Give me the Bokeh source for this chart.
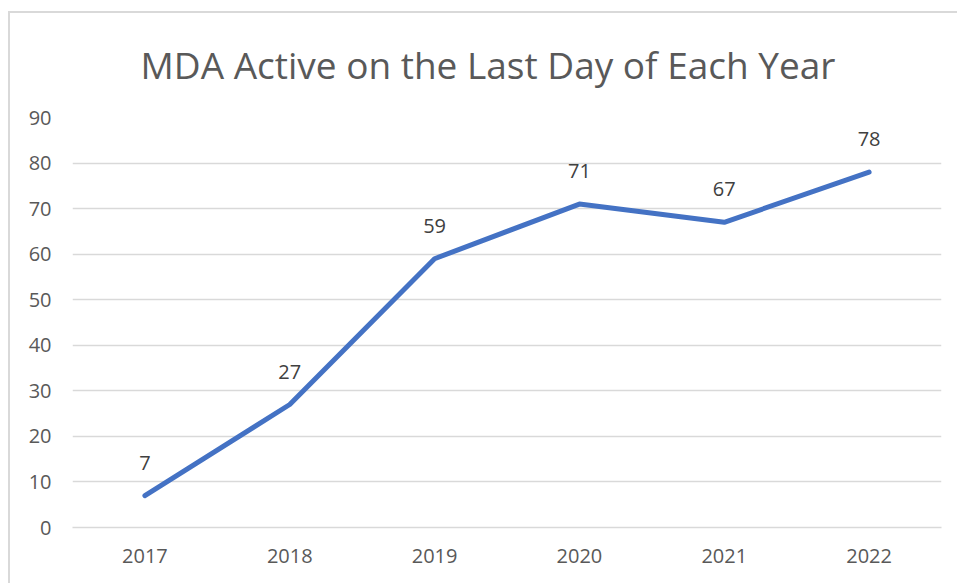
from bokeh.plotting import figure
from bokeh.models import ColumnDataSource, Title
from bokeh.embed import file_html
from bokeh.resources import INLINE
from bokeh.core.properties import value

years = ["2017", "2018", "2019", "2020", "2021", "2022"]
counts = [7, 27, 59, 71, 67, 78]
labels = [str(c) for c in counts]
y_ticks = [0, 10, 20, 30, 40, 50, 60, 70, 80, 90]

FONT = "Open Sans"
src = ColumnDataSource(dict(x=years, y=counts, t=labels))

p = figure(x_range=years, y_range=(0, 90), width=949, height=572,
           output_backend="svg", toolbar_location=None,
           min_border_left=62, min_border_right=18, min_border_top=104, min_border_bottom=58)
p.margin = (11, 0, 0, 8)
p.styles = {"border-top": "2px solid #d9d9d9", "border-left": "2px solid #d9d9d9",
            "box-sizing": "border-box"}

title = Title(text="MDA Active on the Last Day of Each Year", align="left", offset=68,
              vertical_align="top",
              text_font=FONT, text_font_size="37px", text_font_style="normal",
              text_color="#595959", standoff=51)
p.add_layout(title, "above")

p.outline_line_color = None
p.background_fill_color = "white"
p.border_fill_color = "white"

p.xgrid.grid_line_color = None
p.ygrid.grid_line_color = "#d9d9d9"
p.ygrid.grid_line_width = 1.5
p.yaxis.ticker = y_ticks

for ax in (p.xaxis, p.yaxis):
    ax.axis_line_color = None
    ax.major_tick_line_color = None
    ax.minor_tick_line_color = None
    ax.major_label_text_font = FONT
    ax.major_label_text_font_size = "20px"
    ax.major_label_text_color = "#595959"
p.xaxis.axis_line_color = "#d9d9d9"
p.xaxis.axis_line_width = 1.5
p.yaxis.major_label_standoff = 15
p.xaxis.major_label_standoff = 15

p.line("x", "y", source=src, line_color="#4472C4", line_width=5, line_cap="round", line_join="round")
p.text("x", "y", text="t", source=src, text_font=value(FONT), text_font_size="20px",
       text_color="#404040", text_align="center", text_baseline="middle", y_offset=-33)

open("out.html", "w").write(file_html(p, INLINE))
